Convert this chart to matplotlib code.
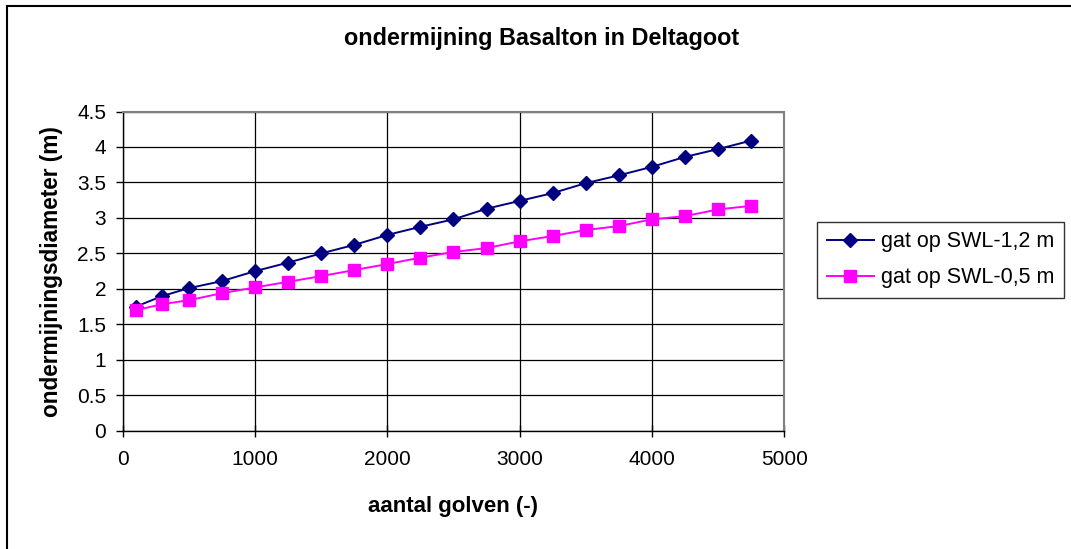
import matplotlib
matplotlib.use("Agg")
import matplotlib.pyplot as plt
from matplotlib.patches import Rectangle

plt.rcParams['font.family'] = ['Liberation Sans', 'DejaVu Sans']

golven = [100, 300, 500, 750, 1000, 1250, 1500, 1750, 2000, 2250, 2500,
          2750, 3000, 3250, 3500, 3750, 4000, 4250, 4500, 4750]
swl_12 = [1.75, 1.90, 2.01, 2.11, 2.25, 2.37, 2.50, 2.62, 2.76, 2.875, 2.98,
          3.13, 3.24, 3.35, 3.49, 3.60, 3.72, 3.86, 3.97, 4.09]
swl_05 = [1.70, 1.785, 1.84, 1.94, 2.02, 2.10, 2.18, 2.265, 2.35, 2.44, 2.52,
          2.575, 2.67, 2.745, 2.83, 2.885, 2.98, 3.025, 3.12, 3.17]
xticks = [0, 1000, 2000, 3000, 4000, 5000]
yticks = [0, 0.5, 1, 1.5, 2, 2.5, 3, 3.5, 4, 4.5]
ytick_labels = ['0', '0.5', '1', '1.5', '2', '2.5', '3', '3.5', '4', '4.5']

fig = plt.figure(figsize=(10.71, 5.49), dpi=100)
# outer chart border (extends past right/bottom edges)
fig.patches.append(Rectangle((7/1071, -0.1), 1.2, 1 - 5.5/549 + 0.1,
                             transform=fig.transFigure, fill=False,
                             edgecolor='black', linewidth=1.5))

ax = fig.add_axes([122.7/1071, 1 - 430.8/549, (784.2-122.7)/1071, (430.8-111.5)/549])
ax.plot(golven, swl_12, color='#000080', marker='D', markersize=7.5,
        linewidth=1.4, label='gat op SWL-1,2 m')
ax.plot(golven, swl_05, color='#FF00FF', marker='s', markersize=8,
        linewidth=1.4, label='gat op SWL-0,5 m')

ax.set_xlim(0, 5000)
ax.set_ylim(0, 4.5)
ax.set_xticks(xticks)
ax.set_xticklabels([str(v) for v in xticks])
ax.set_yticks(yticks)
ax.set_yticklabels(ytick_labels)
ax.grid(True, color='black', linewidth=0.9)
ax.set_axisbelow(True)
for s in ['top', 'right']:
    ax.spines[s].set_color('#808080')
    ax.spines[s].set_linewidth(1.5)
for s in ['left', 'bottom']:
    ax.spines[s].set_color('black')
    ax.spines[s].set_linewidth(1.0)
ax.tick_params(axis='x', direction='inout', length=9, width=1, labelsize=15, pad=9)
ax.tick_params(axis='y', direction='out', length=5, width=1, labelsize=15, pad=7)

ax.set_xlabel('aantal golven (-)', fontsize=16, fontweight='bold', labelpad=20)
ax.set_ylabel('ondermijningsdiameter (m)', fontsize=16.3, fontweight='bold', labelpad=10)
fig.text(542/1071, 1 - 38/549, 'ondermijning Basalton in Deltagoot',
         fontsize=16.8, fontweight='bold', ha='center', va='center')

leg = fig.legend(loc='upper left', bbox_to_anchor=(817/1071, 1 - 221.5/549),
                 fontsize=15.5, frameon=True, fancybox=False, edgecolor='black',
                 handlelength=2.2, borderpad=0.45, labelspacing=0.7,
                 handletextpad=0.3, borderaxespad=0)
leg.get_frame().set_linewidth(1.0)

fig.savefig('out.png', dpi=100)
